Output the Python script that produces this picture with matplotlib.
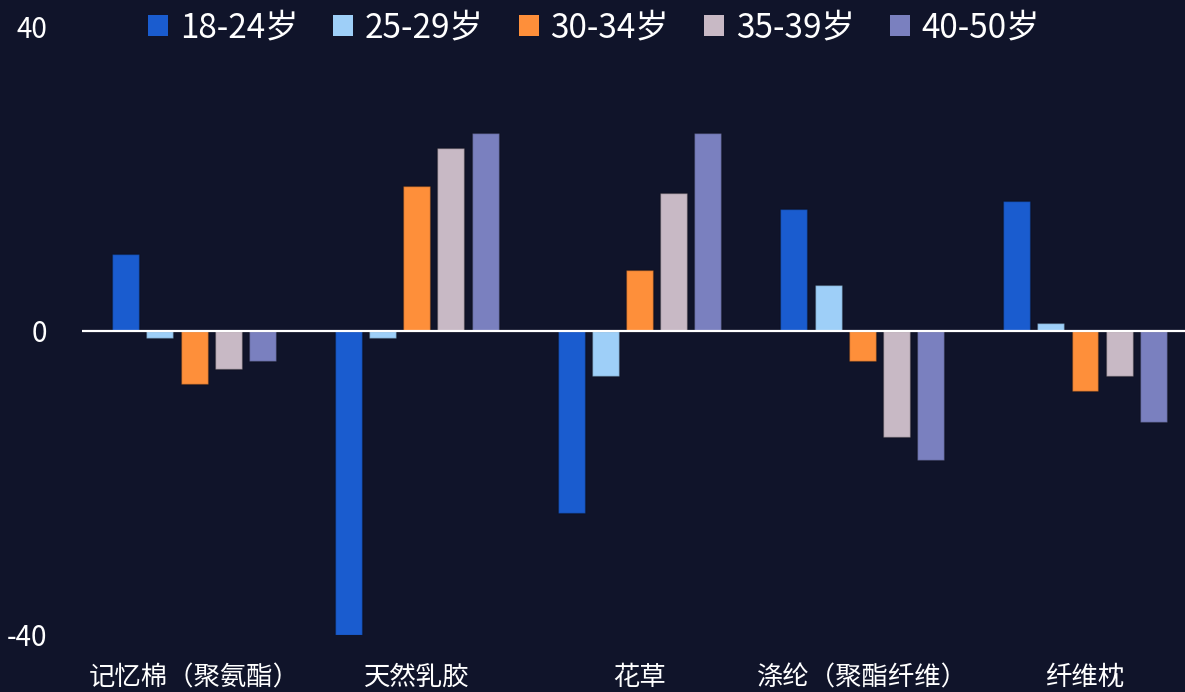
import numpy as np
import matplotlib
matplotlib.use('Agg')
import matplotlib.pyplot as plt
from matplotlib.patches import Patch

plt.rcParams['font.family'] = ['Noto Sans CJK SC', 'DejaVu Sans']
plt.rcParams['axes.unicode_minus'] = False

categories = ['记忆棉（聚氨酯）', '天然乳胶', '花草', '涤纶（聚酯纤维）', '纤维枕']
age_groups = ['18-24岁', '25-29岁', '30-34岁', '35-39岁', '40-50岁']
v_18_24 = [10, -40, -24, 16, 17]
v_25_29 = [-1, -1, -6, 6, 1]
v_30_34 = [-7, 19, 8, -4, -8]
v_35_39 = [-5, 24, 18, -14, -6]
v_40_50 = [-4, 26, 26, -17, -12]
series = [v_18_24, v_25_29, v_30_34, v_35_39, v_40_50]
colors = ['#1a5ccf', '#9ecff8', '#fe8f3a', '#c8b9c5', '#7a80bf']
bg = '#10142a'

fig = plt.figure(figsize=(11.85, 6.92), dpi=100, facecolor=bg)
ax = fig.add_axes([82/1185, 57/692, 1 - 82/1185, 609/692])
ax.set_facecolor(bg)

x = np.arange(len(categories))
step = 0.1535
width = 0.121
for i, (vals, c) in enumerate(zip(series, colors)):
    ax.bar(x + (i - 2) * step, vals, width, color=c,
           edgecolor=(0, 0, 0, 0.25), linewidth=1, zorder=2)

ax.axhline(0, color='white', lw=1.6, zorder=3)

ax.set_xlim(-0.503, 4.449)
ax.set_ylim(-40, 40)
ax.set_yticks([-40, 0, 40])
ax.set_xticks(x)
ax.set_xticklabels(categories, family=['Noto Sans CJK KR', 'DejaVu Sans'])
for s in ax.spines.values():
    s.set_visible(False)
ax.tick_params(axis='y', length=0, pad=25, labelsize=20, labelcolor='white')
ax.tick_params(axis='x', length=0, pad=21, labelsize=19, labelcolor='white')

handles = [Patch(facecolor=c, edgecolor='none') for c in colors]
fig.legend(handles, age_groups, loc='center', bbox_to_anchor=(594/1185, 1 - 28/692),
           ncol=5, frameon=False, fontsize=24, labelcolor='white',
           handlelength=0.6, handleheight=0.6, handletextpad=0.35,
           columnspacing=1.05)

fig.savefig('out.png', dpi=100, facecolor=bg)
